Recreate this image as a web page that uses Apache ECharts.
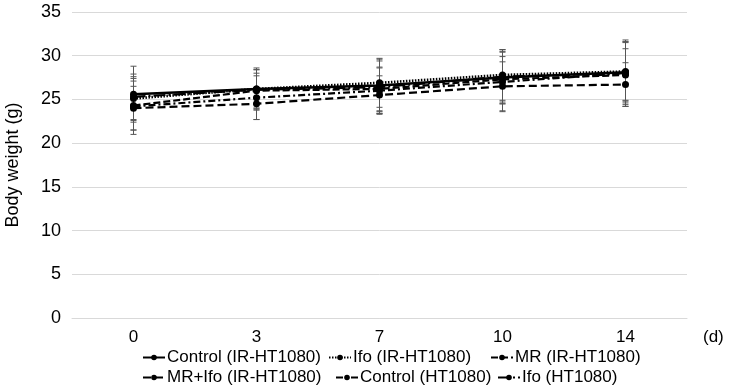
<!DOCTYPE html>
<html>
<head>
<meta charset="utf-8">
<script src="https://cdn.jsdelivr.net/npm/echarts@6/dist/echarts.min.js"></script>
<style>
html,body{margin:0;padding:0;background:#fff;}
#chart{width:733px;height:390px;}
</style>
</head>
<body>
<div id="chart"></div>
<script>
// days of measurement
var days = ['0', '3', '7', '10', '14'];
var yTicks = [0, 5, 10, 15, 20, 25, 30, 35];

// mean body weight (g)
var ctrlIR = [25.6, 26.2, 26.6, 27.5, 28.1];
var ifoIR = [25.1, 26.2, 26.9, 27.8, 28.2];
var mrIR = [24.3, 26.0, 26.2, 27.3, 27.8];
var mrIfoIR = [24.0, 24.5, 25.5, 26.5, 26.7];
var ctrlHT = [24.2, 25.2, 26.0, 27.0, 28.0];
var ifoHT = [25.3, 26.1, 26.4, 27.6, 28.0];

// standard deviations
var ctrlIRsd = [3.2, 2.4, 3.0, 3.0, 3.5];
var ifoIRsd = [2.5, 2.2, 2.8, 2.9, 3.3];
var mrIRsd = [2.8, 2.0, 2.5, 2.6, 3.0];
var mrIfoIRsd = [2.5, 1.8, 2.2, 2.8, 2.5];
var ctrlHTsd = [3.2, 2.5, 2.6, 3.4, 3.8];
var ifoHTsd = [2.6, 2.3, 3.0, 3.1, 3.6];

var groups = [
	{name:'Control (IR-HT1080)', data:ctrlIR, sd:ctrlIRsd, dash:'solid', w:2.6},
	{name:'Ifo (IR-HT1080)', data:ifoIR, sd:ifoIRsd, dash:[1.5,1.5], w:2.6},
	{name:'MR (IR-HT1080)', data:mrIR, sd:mrIRsd, dash:[7,3], w:2.2},
	{name:'MR+Ifo (IR-HT1080)', data:mrIfoIR, sd:mrIfoIRsd, dash:[8,4], w:2.2},
	{name:'Control (HT1080)', data:ctrlHT, sd:ctrlHTsd, dash:[7,3,2,3], w:2.2},
	{name:'Ifo (HT1080)', data:ifoHT, sd:ifoHTsd, dash:[12,3,2,3], w:2.2}
];

// legend spots: [left, top]
var legendPos = [[142, 349], [328, 349], [490, 349], [142, 369], [335, 369], [497, 369]];

var series = [];
groups.forEach(function(g){
	var errData = g.data.map(function(v,i){
		return [i, v - g.sd[i], v + g.sd[i]];
	});
	series.push({
		type:'custom',
		name:g.name + ' sd',
		data:errData,
		silent:true,
		z:1,
		renderItem:function(params, api){
			var lo = api.coord([api.value(0), api.value(1)]);
			var hi = api.coord([api.value(0), api.value(2)]);
			var c = 3;
			var st = {stroke:'#555', lineWidth:1};
			return {
				type:'group',
				children:[
					{type:'line', shape:{x1:lo[0],y1:lo[1],x2:hi[0],y2:hi[1]}, style:st},
					{type:'line', shape:{x1:lo[0]-c,y1:lo[1],x2:lo[0]+c,y2:lo[1]}, style:st},
					{type:'line', shape:{x1:hi[0]-c,y1:hi[1],x2:hi[0]+c,y2:hi[1]}, style:st}
				]
			};
		}
	});
	series.push({
		type:'line',
		name:g.name,
		data:g.data,
		symbol:'circle',
		symbolSize:7,
		z:3,
		itemStyle:{color:'#000'},
		lineStyle:{color:'#000', width:g.w, type:g.dash}
	});
});

var font = 'Liberation Sans, Arial, sans-serif';

var legends = groups.map(function(g, i){
	return {
		data:[g.name],
		left:legendPos[i][0], top:legendPos[i][1],
		itemWidth:22, itemHeight:7, itemGap:0, padding:0,
		textStyle:{fontFamily:font, fontSize:17, color:'#000', padding:[0,0,0,-3]}
	};
});

var option = {
	animation:false,
	backgroundColor:'#fff',
	textStyle:{fontFamily:font},
	grid:{left:72, right:46, top:12, bottom:72, outerBoundsMode:'none', containLabel:false},
	legend:legends,
	xAxis:{
		type:'category',
		data:days,
		boundaryGap:true,
		name:'(d)',
		nameLocation:'end',
		nameGap:16,
		nameTextStyle:{fontSize:17, color:'#000', verticalAlign:'top', padding:[11,0,0,0]},
		axisLine:{lineStyle:{color:'#d9d9d9'}},
		axisTick:{show:false},
		axisLabel:{fontSize:17, color:'#000', margin:11}
	},
	yAxis:{
		type:'value',
		min:yTicks[0],
		max:yTicks[yTicks.length-1],
		interval:5,
		name:'Body weight (g)',
		nameLocation:'middle',
		nameGap:50,
		nameTextStyle:{fontSize:18, color:'#000'},
		axisLine:{show:false},
		axisTick:{show:false},
		axisLabel:{fontSize:18, color:'#000', margin:11},
		splitLine:{lineStyle:{color:'#d9d9d9'}}
	},
	series:series
};

var myChart = echarts.init(document.getElementById('chart'));
myChart.setOption(option);
</script>
</body>
</html>
